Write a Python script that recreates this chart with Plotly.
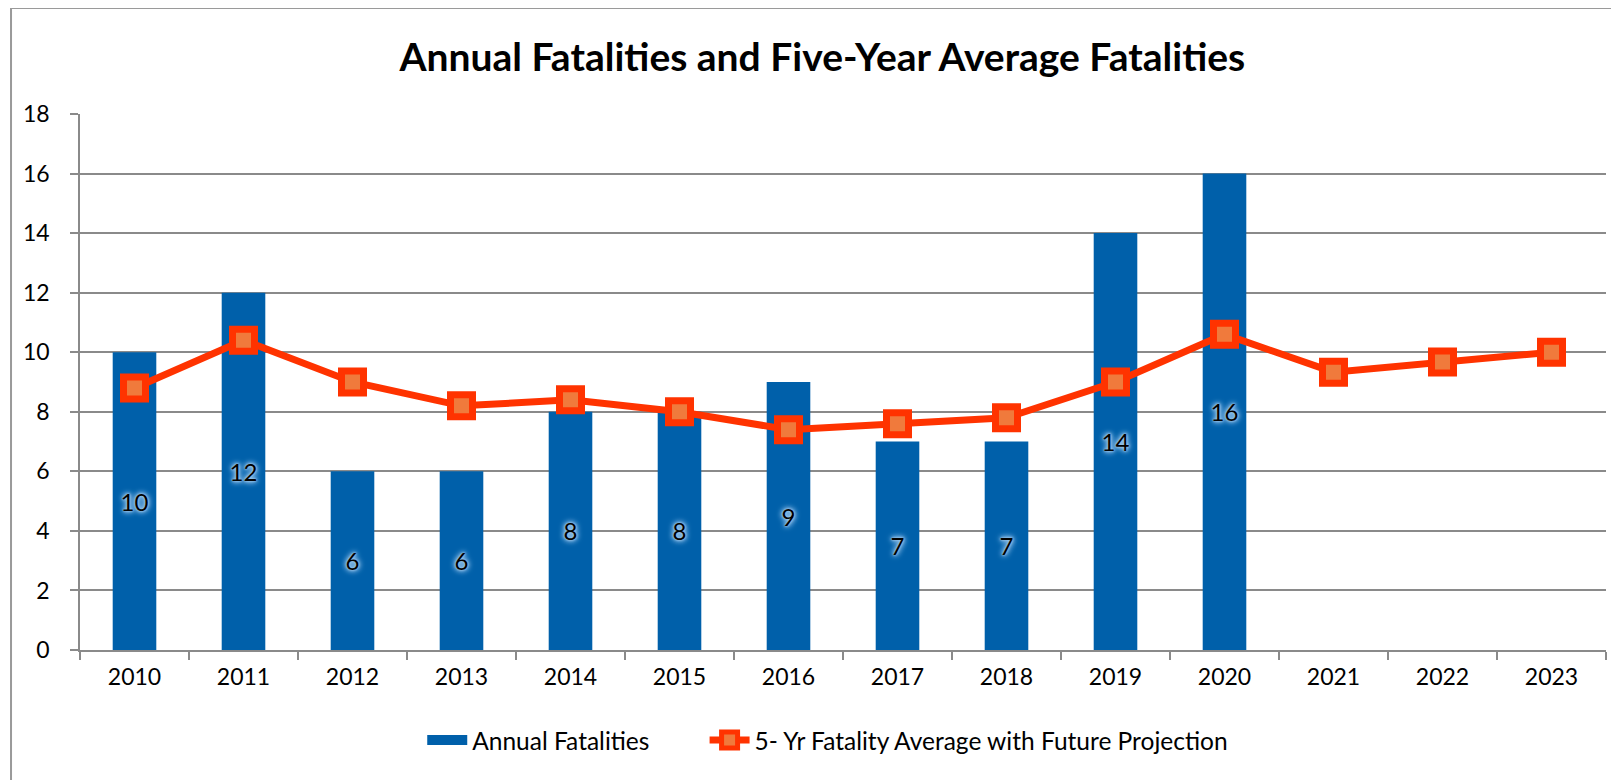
import plotly.graph_objects as go

years = ["2010", "2011", "2012", "2013", "2014", "2015", "2016",
         "2017", "2018", "2019", "2020", "2021", "2022", "2023"]
annual = [10, 12, 6, 6, 8, 8, 9, 7, 7, 14, 16, None, None, None]
five_yr_avg = [8.8, 10.4, 9.0, 8.2, 8.4, 8.0, 7.4, 7.6, 7.8, 9.0, 10.6, 9.33, 9.67, 10.0]

FONT = "Lato, 'Open Sans', sans-serif"
BLUE = "#0060AA"
RED = "#FF3300"
ORANGE = "#F07A3C"
GRID = "#8a8a8a"
GLOW = "#9cc8ef"

fig = go.Figure()
fig.add_trace(go.Bar(
    x=years, y=annual, name="Annual Fatalities",
    marker=dict(color=BLUE, line=dict(width=0)),
    text=[("" if v is None else str(v)) for v in annual],
    textposition="inside", insidetextanchor="middle", textangle=0,
    textfont=dict(family=FONT, size=24, color="black",
                  shadow=f"0px 0px 2px {GLOW}, 0px 0px 3px {GLOW}, 0px 0px 5px {GLOW}, 0px 0px 6px {GLOW}, 0px 0px 7px {GLOW}"),
    hoverinfo="skip", showlegend=False, legendgroup="bars",
))
# legend swatch for the bars (wide rectangle like the original)
fig.add_trace(go.Scatter(
    x=[None], y=[None], mode="lines", name="Annual Fatalities" + "\u00a0" * 8,
    line=dict(color=BLUE, width=15), legendgroup="bars", hoverinfo="skip",
))
fig.add_trace(go.Scatter(
    x=years, y=five_yr_avg, name="5- Yr Fatality Average with Future Projection",
    mode="lines+markers",
    line=dict(color=RED, width=7),
    marker=dict(symbol="square", size=22, color=ORANGE, line=dict(color=RED, width=7)),
    cliponaxis=False, hoverinfo="skip",
))

fig.update_layout(
    width=1619, height=780,
    margin=dict(l=72, r=21, t=106, b=138),
    paper_bgcolor="white", plot_bgcolor="white",
    font=dict(family=FONT, size=23, color="black"),
    title=dict(text="<b>Annual Fatalities and Five-Year Average Fatalities</b>",
               x=0.503, xanchor="center", y=1 - 49 / 780, yanchor="middle",
               font=dict(family=FONT, size=39, color="black")),
    bargap=0.6,
    showlegend=True,
    legend=dict(orientation="h", x=0.49, xanchor="center", y=-0.168, yanchor="middle",
                font=dict(family=FONT, size=24.5, color="black"),
                itemwidth=40, traceorder="normal"),
    shapes=[dict(type="rect", xref="paper", yref="paper",
                 x0=-0.0452, x1=1.05, y0=-0.4, y1=1.1978,
                 line=dict(color="#9a9a9a", width=2), fillcolor="rgba(0,0,0,0)",
                 layer="below")],
)
fig.update_xaxes(
    type="category", range=[-0.5, 13.5], autorange=False,
    showline=True, linecolor=GRID, linewidth=1.5,
    ticks="outside", tickson="boundaries", ticklen=8, tickcolor=GRID, tickwidth=1.5,
    showgrid=False, tickfont=dict(family=FONT, size=23, color="black"),
    ticklabelstandoff=6,
)
fig.update_yaxes(
    range=[0, 18], dtick=2, showline=True, linecolor=GRID, linewidth=1.5,
    ticks="outside", ticklen=8, tickcolor=GRID, tickwidth=1.5,
    showgrid=True, gridcolor=GRID, gridwidth=1.5, zeroline=False,
    tickfont=dict(family=FONT, size=23, color="black"),
    ticklabelstandoff=16,
)

fig.write_html("out.html")
